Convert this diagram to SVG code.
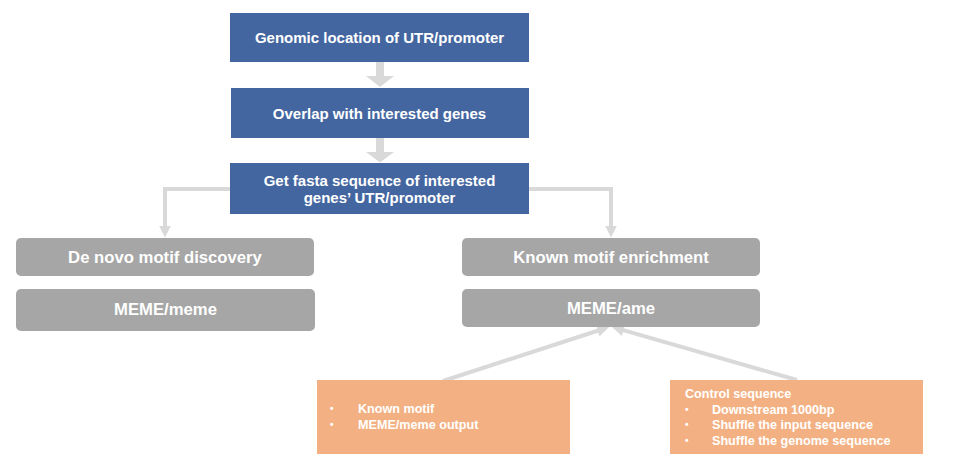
<svg xmlns="http://www.w3.org/2000/svg" width="965" height="469" viewBox="0 0 965 469">
<style>
text{font-family:"Liberation Sans",Arial,sans-serif;font-weight:bold;fill:#ffffff}
.blue{fill:#4466a0}
.gray{fill:#a6a6a6}
.orange{fill:#f3b183}
.t15{font-size:15px;text-anchor:middle}
.t17{font-size:16.7px;text-anchor:middle}
.t12{font-size:12.6px}
.bul{font-size:10px}
.conn{fill:none;stroke:#d9d9d9;stroke-width:4}
.block{fill:#d9d9d9}
</style>
<defs>
<marker id="ah" markerUnits="userSpaceOnUse" markerWidth="12" markerHeight="12" viewBox="0 0 12 12" refX="4" refY="6" orient="auto">
<path d="M0,0 L12,6 L0,12 z" fill="#d9d9d9"/>
</marker>
</defs>
<rect width="965" height="469" fill="#ffffff"/>
<g id="connectors">
<polygon class="block" points="376,62 384,62 384,76 394,76 380,87 366,76 376,76"/>
<polygon class="block" points="376,138 384,138 384,152 394,152 380,162.5 366,152 376,152"/>
<polyline class="conn" points="230,189 165,189 165,229.5" marker-end="url(#ah)"/>
<polyline class="conn" points="529,189 611,189 611,229.5" marker-end="url(#ah)"/>
<line class="conn" x1="443" y1="381" x2="601.4" y2="329.5" marker-end="url(#ah)"/>
<line class="conn" x1="797" y1="380" x2="619.7" y2="329.2" marker-end="url(#ah)"/>
</g>
<g id="genomic">
<rect class="blue" x="230" y="13" width="299" height="49"/>
<text class="t15" x="379.5" y="43">Genomic location of UTR/promoter</text>
</g>
<g id="overlap">
<rect class="blue" x="231" y="88" width="298" height="50"/>
<text class="t15" x="379.5" y="119">Overlap with interested genes</text>
</g>
<g id="fasta">
<rect class="blue" x="230" y="163" width="299" height="51"/>
<text class="t15" x="379.5" y="185.5">Get fasta sequence of interested</text>
<text class="t15" x="379.5" y="203">genes’ UTR/promoter</text>
</g>
<g id="denovo">
<rect class="gray" x="16" y="238" width="298" height="38" rx="5"/>
<text class="t17" x="165" y="263">De novo motif discovery</text>
</g>
<g id="meme">
<rect class="gray" x="16" y="289" width="299" height="42" rx="5"/>
<text class="t17" x="165.5" y="315">MEME/meme</text>
</g>
<g id="known">
<rect class="gray" x="462" y="238" width="298" height="38" rx="5"/>
<text class="t17" x="611" y="263">Known motif enrichment</text>
</g>
<g id="ame">
<rect class="gray" x="462" y="289" width="298" height="38" rx="5"/>
<text class="t17" x="611" y="314">MEME/ame</text>
</g>
<g id="motifs">
<rect class="orange" x="317" y="380" width="253" height="74"/>
<text class="bul" x="330" y="412">•</text>
<text class="t12" x="358" y="413">Known motif</text>
<text class="bul" x="330" y="428">•</text>
<text class="t12" x="358" y="429">MEME/meme output</text>
</g>
<g id="control">
<rect class="orange" x="670" y="380" width="253" height="74"/>
<text class="t12" x="685" y="398">Control sequence</text>
<text class="bul" x="685" y="413">•</text>
<text class="t12" x="712" y="413.5">Downstream 1000bp</text>
<text class="bul" x="685" y="428">•</text>
<text class="t12" x="712" y="429">Shuffle the input sequence</text>
<text class="bul" x="685" y="444">•</text>
<text class="t12" x="712" y="444.5">Shuffle the genome sequence</text>
</g>
</svg>
